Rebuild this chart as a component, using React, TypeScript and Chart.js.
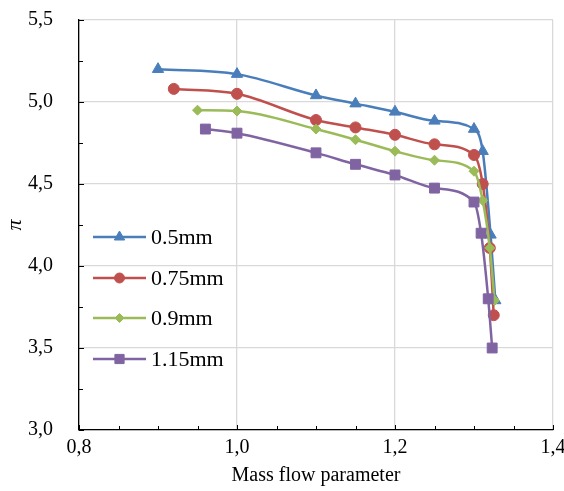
import React, { useEffect, useRef } from "react";
import { Chart, registerables } from "chart.js";
import { drawPoint } from "chart.js/helpers";

Chart.register(...registerables);

const seriesLabels = ["0.5mm", "0.75mm", "0.9mm", "1.15mm"];
const seriesColors = ["#4A7EBB", "#C0504D", "#9BBB59", "#8064A2"];
const seriesMarkers = ["triangle", "circle", "rectRot", "rect"];
const markerRadius = [6.5, 5.5, 5, 7];

const x05 = [0.9, 1.0, 1.1, 1.15, 1.2, 1.25, 1.3, 1.311, 1.321, 1.327];
const y05 = [5.2, 5.17, 5.04, 4.99, 4.94, 4.885, 4.835, 4.7, 4.19, 3.79];
const x075 = [0.92, 1.0, 1.1, 1.15, 1.2, 1.25, 1.3, 1.311, 1.32, 1.325];
const y075 = [5.08, 5.05, 4.89, 4.845, 4.8, 4.742, 4.677, 4.5, 4.11, 3.7];
const x09 = [0.95, 1.0, 1.1, 1.15, 1.2, 1.25, 1.3, 1.311, 1.32, 1.326];
const y09 = [4.95, 4.945, 4.835, 4.77, 4.7, 4.645, 4.578, 4.4, 4.11, 3.79];
const x115 = [0.96, 1.0, 1.1, 1.15, 1.2, 1.25, 1.3, 1.309, 1.318, 1.323];
const y115 = [4.835, 4.81, 4.69, 4.62, 4.555, 4.475, 4.39, 4.2, 3.8, 3.5];

const xSeries = [x05, x075, x09, x115];
const ySeries = [y05, y075, y09, y115];

const xMin = 0.8, xMax = 1.4, xStep = 0.2, xMinor = 0.05;
const yMin = 3.0, yMax = 5.5, yStep = 0.5, yMinor = 0.25;
const xTitle = "Mass flow parameter";
const yTitle = "π";

const FONT = "'Liberation Serif', 'Times New Roman', serif";

const fmt = (v: number) => v.toFixed(1).replace(".", ",");

const decorPlugin = {
  id: "decor",
  afterDraw(chart: any) {
    const ctx = chart.ctx;
    const ca = chart.chartArea;
    const xs = chart.scales.x;
    const ys = chart.scales.y;
    ctx.save();
    ctx.strokeStyle = "#000";
    ctx.lineWidth = 1;
    for (let i = 0; ; i++) {
      const v = xMin + i * xMinor;
      if (v > xMax + 1e-9) break;
      const major = Math.abs(v / xStep - Math.round(v / xStep)) < 1e-6;
      const px = Math.round(xs.getPixelForValue(v)) + 0.5;
      const len = major ? 5 : 4;
      ctx.beginPath();
      ctx.moveTo(px, ca.bottom);
      ctx.lineTo(px, ca.bottom - len);
      ctx.stroke();
    }
    for (let i = 0; ; i++) {
      const v = yMin + i * yMinor;
      if (v > yMax + 1e-9) break;
      const major = Math.abs(v / yStep - Math.round(v / yStep)) < 1e-6;
      const py = Math.round(ys.getPixelForValue(v)) + 0.5;
      const len = major ? 5 : 4;
      ctx.beginPath();
      ctx.moveTo(ca.left, py);
      ctx.lineTo(ca.left + len, py);
      ctx.stroke();
    }
    // legend
    const lx0 = 93, lx1 = 146, tx = 151;
    const rows = [237, 278, 318, 359];
    ctx.font = `22px ${FONT}`;
    ctx.textBaseline = "middle";
    ctx.textAlign = "left";
    seriesLabels.forEach((label, i) => {
      const ds = chart.data.datasets[i];
      const y = rows[i];
      ctx.strokeStyle = ds.borderColor;
      ctx.lineWidth = 2.5;
      ctx.beginPath();
      ctx.moveTo(lx0, y);
      ctx.lineTo(lx1, y);
      ctx.stroke();
      ctx.fillStyle = ds.pointBackgroundColor;
      ctx.strokeStyle = ds.pointBorderColor;
      ctx.lineWidth = 1;
      drawPoint(ctx, { pointStyle: ds.pointStyle, radius: ds.pointRadius - 0.5, borderWidth: 1, rotation: 0 }, (lx0 + lx1) / 2, y);
      ctx.fillStyle = "#000";
      ctx.fillText(label, tx, y + 1);
    });
    ctx.restore();
  },
};

export default function App() {
  const ref = useRef<HTMLCanvasElement | null>(null);
  useEffect(() => {
    document.body.style.margin = "0";
    const datasets = seriesLabels.map((label, i) => ({
      label,
      data: xSeries[i].map((x, j) => ({ x, y: ySeries[i][j] })),
      order: seriesLabels.length - i,
      borderColor: seriesColors[i],
      backgroundColor: seriesColors[i],
      pointBackgroundColor: seriesColors[i],
      pointBorderColor: seriesColors[i],
      pointStyle: seriesMarkers[i],
      pointRadius: markerRadius[i],
      pointBorderWidth: 1,
      borderWidth: 2.5,
      cubicInterpolationMode: "monotone",
      fill: false,
    }));
    const chart = new Chart(ref.current!, {
      type: "line",
      data: { datasets } as any,
      plugins: [decorPlugin],
      options: {
        responsive: false,
        animation: false,
        layout: { padding: { left: 0, right: 11, top: 20, bottom: 0 } },
        plugins: { legend: { display: false }, tooltip: { enabled: false } },
        scales: {
          x: {
            type: "linear",
            min: xMin,
            max: xMax,
            afterFit: (s: any) => {
              s.height = 61;
              s.paddingLeft = 0;
              s.paddingRight = 0;
            },
            ticks: {
              stepSize: xStep,
              color: "#000",
              font: { family: FONT, size: 20 },
              padding: 6,
              callback: (v: any) => fmt(Number(v)),
              maxRotation: 0,
            },
            grid: { color: "#D9D9D9", lineWidth: 1.3, drawTicks: false },
            border: { display: true, color: "#000", width: 1.3 },
            title: {
              display: true,
              text: xTitle,
              color: "#000",
              font: { family: FONT, size: 20 },
              padding: { top: 0, bottom: 3 },
            },
          },
          y: {
            type: "linear",
            min: yMin,
            max: yMax,
            afterFit: (s: any) => {
              s.width = 79;
              s.paddingTop = 0;
              s.paddingBottom = 0;
            },
            ticks: {
              stepSize: yStep,
              color: "#000",
              font: { family: FONT, size: 20 },
              padding: 26,
              callback: (v: any) => fmt(Number(v)),
            },
            grid: { color: "#D9D9D9", lineWidth: 1.3, drawTicks: false },
            border: { display: true, color: "#000", width: 1.3 },
            title: {
              display: true,
              text: yTitle,
              color: "#000",
              font: { family: FONT, size: 22, style: "italic" },
              padding: { top: 2, bottom: 0 },
            },
          },
        },
      } as any,
    });
    return () => chart.destroy();
  }, []);
  return (
    <div style={{ position: "absolute", left: 0, top: 0, width: 564, height: 491, background: "#fff" }}>
      <canvas ref={ref} width={564} height={491} style={{ width: 564, height: 491, display: "block" }} />
    </div>
  );
}
